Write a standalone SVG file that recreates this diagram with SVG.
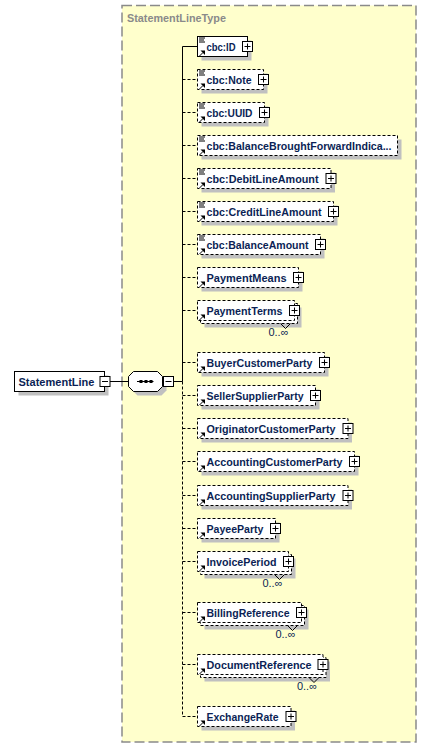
<svg xmlns="http://www.w3.org/2000/svg" width="427" height="748" viewBox="0 0 427 748">
<defs>
<style>
.bg{fill:#ffffff}
.ctr{fill:#ffffcc;stroke:#8a8a8a;stroke-width:1.5;stroke-dasharray:10,4}
.ttl{font-family:"Liberation Sans",Arial,sans-serif;font-weight:bold;font-size:11px;fill:#8a8a8a}
.sh{fill:#c0c0c0}
.box{fill:#ffffff;stroke:#000000;stroke-width:1}
.opt{stroke-dasharray:3,2}
.lbl{font-family:"Liberation Sans",Arial,sans-serif;font-weight:bold;font-size:11px;fill:#0b1f55}
.occ{font-family:"Liberation Sans",Arial,sans-serif;font-size:11px;fill:#0b1f55}
.ln{stroke:#000000;stroke-width:1;fill:none}
.dl{stroke:#000000;stroke-width:1;fill:none;stroke-dasharray:3,2}
.pm{fill:#ffffff;stroke:#000000;stroke-width:1}
.ar{fill:#000000}
</style>
<g id="plus"><rect class="pm" x="-5" y="-5" width="10" height="10"/><path class="ln" d="M-3,0H3M0,-3V3"/></g>
<g id="lines"><path class="ln" d="M199,-8.5H205M199,-6.5H204M199,-4.5H205"/></g>
<g id="arrow"><path class="ln" d="M199.5,9.5L203,6"/><path class="ar" d="M205,4L205,8.5L200.5,4Z"/></g>
</defs>
<rect class="bg" x="0" y="0" width="427" height="748"/>
<g id="container">
<rect class="ctr" x="122" y="5.5" width="294" height="736.5"/>
<text class="ttl" x="127" y="22" textLength="99" lengthAdjust="spacingAndGlyphs">StatementLineType</text>
</g>

<g id="connectors">
<path class="ln" d="M110,381.5H128.5M173.5,381.5H182.5M182.5,46.5V381.5M182.5,46.5H197.5"/>
<path class="dl" d="M182.5,381.5V716.5"/>
<path class="dl" d="M182.5,79.5H197.5M182.5,112.5H197.5M182.5,145.5H197.5M182.5,178.5H197.5M182.5,211.5H197.5M182.5,244.5H197.5M182.5,277.5H197.5M182.5,310.5H197.5M182.5,362.5H197.5M182.5,395.5H197.5M182.5,428.5H197.5M182.5,461.5H197.5M182.5,495.5H197.5M182.5,528.5H197.5M182.5,561.5H197.5M182.5,612.5H197.5M182.5,664.5H197.5M182.5,716.5H197.5"/>
</g>

<g id="StatementLine">
<rect class="sh" x="18.5" y="375.5" width="90" height="20"/>
<rect class="box" x="14.5" y="371.5" width="90" height="20"/>
<text class="lbl" x="18.5" y="385.5" textLength="76" lengthAdjust="spacingAndGlyphs">StatementLine</text>
<rect class="pm" x="100" y="376.5" width="10" height="10"/>
<path class="ln" d="M102,381.5H108"/>
</g>

<g id="sequence">
<polygon class="sh" points="137.5,375.5 161.5,375.5 166.5,380.5 166.5,390.5 161.5,395.5 137.5,395.5 132.5,390.5 132.5,380.5"/>
<polygon class="box" points="133.5,371.5 157.5,371.5 162.5,376.5 162.5,386.5 157.5,391.5 133.5,391.5 128.5,386.5 128.5,376.5"/>
<path class="ln" d="M137,381.5H153.5"/>
<rect class="ar" x="139.5" y="380" width="3" height="3"/>
<rect class="ar" x="144.5" y="380" width="3" height="3"/>
<rect class="ar" x="149.5" y="380" width="3" height="3"/>
<rect class="pm" x="163.5" y="376.5" width="10" height="10"/>
<path class="ln" d="M165.5,381.5H171.5"/>
</g>

<g id="cbc-ID" transform="translate(0,46.5)">
<rect class="sh" x="201.5" y="-6" width="50" height="20"/>
<rect class="box" x="197.5" y="-10" width="50" height="20"/>
<use href="#lines"/><use href="#arrow"/>
<text class="lbl" x="206.5" y="4" textLength="29" lengthAdjust="spacingAndGlyphs">cbc:ID</text>
<use href="#plus" x="247.5"/>
</g>

<g id="cbc-Note" transform="translate(0,79.5)">
<rect class="sh" x="201.5" y="-6" width="66" height="20"/>
<rect class="box opt" x="197.5" y="-10" width="66" height="20"/>
<use href="#lines"/><use href="#arrow"/>
<text class="lbl" x="206.5" y="4" textLength="45" lengthAdjust="spacingAndGlyphs">cbc:Note</text>
<use href="#plus" x="263.5"/>
</g>

<g id="cbc-UUID" transform="translate(0,112.5)">
<rect class="sh" x="201.5" y="-6" width="67" height="20"/>
<rect class="box opt" x="197.5" y="-10" width="67" height="20"/>
<use href="#lines"/><use href="#arrow"/>
<text class="lbl" x="206.5" y="4" textLength="46" lengthAdjust="spacingAndGlyphs">cbc:UUID</text>
<use href="#plus" x="264.5"/>
</g>

<g id="cbc-BalanceBroughtForwardIndicator" transform="translate(0,145.5)">
<rect class="sh" x="201.5" y="-6" width="200" height="20"/>
<rect class="box opt" x="197.5" y="-10" width="200" height="20"/>
<use href="#lines"/><use href="#arrow"/>
<text class="lbl" x="206.5" y="4" textLength="185" lengthAdjust="spacingAndGlyphs">cbc:BalanceBroughtForwardIndica...</text>
</g>

<g id="cbc-DebitLineAmount" transform="translate(0,178.5)">
<rect class="sh" x="201.5" y="-6" width="133.5" height="20"/>
<rect class="box opt" x="197.5" y="-10" width="133.5" height="20"/>
<use href="#lines"/><use href="#arrow"/>
<text class="lbl" x="206.5" y="4" textLength="112" lengthAdjust="spacingAndGlyphs">cbc:DebitLineAmount</text>
<use href="#plus" x="331"/>
</g>

<g id="cbc-CreditLineAmount" transform="translate(0,211.5)">
<rect class="sh" x="201.5" y="-6" width="136" height="20"/>
<rect class="box opt" x="197.5" y="-10" width="136" height="20"/>
<use href="#lines"/><use href="#arrow"/>
<text class="lbl" x="206.5" y="4" textLength="115" lengthAdjust="spacingAndGlyphs">cbc:CreditLineAmount</text>
<use href="#plus" x="333.5"/>
</g>

<g id="cbc-BalanceAmount" transform="translate(0,244.5)">
<rect class="sh" x="201.5" y="-6" width="123" height="20"/>
<rect class="box opt" x="197.5" y="-10" width="123" height="20"/>
<use href="#lines"/><use href="#arrow"/>
<text class="lbl" x="206.5" y="4" textLength="102" lengthAdjust="spacingAndGlyphs">cbc:BalanceAmount</text>
<use href="#plus" x="320.5"/>
</g>

<g id="PaymentMeans" transform="translate(0,277.5)">
<rect class="sh" x="201.5" y="-6" width="101" height="20"/>
<rect class="box opt" x="197.5" y="-10" width="101" height="20"/>
<use href="#arrow"/>
<text class="lbl" x="206.5" y="4" textLength="80" lengthAdjust="spacingAndGlyphs">PaymentMeans</text>
<use href="#plus" x="298.5"/>
</g>

<g id="PaymentTerms" transform="translate(0,310.5)">
<rect class="sh" x="204.5" y="-3" width="97" height="20"/>
<rect class="box opt" x="200.5" y="-7" width="97" height="20"/>
<rect class="box opt" x="197.5" y="-10" width="97" height="20"/>
<use href="#arrow"/>
<text class="lbl" x="206.5" y="4" textLength="76" lengthAdjust="spacingAndGlyphs">PaymentTerms</text>
<use href="#plus" x="294.5"/>
<path class="ln" d="M280.5,13L285.5,18L290.5,13"/>
<text class="occ" x="288.5" y="25.5" text-anchor="end">0..∞</text>
</g>

<g id="BuyerCustomerParty" transform="translate(0,362.5)">
<rect class="sh" x="201.5" y="-6" width="127" height="20"/>
<rect class="box opt" x="197.5" y="-10" width="127" height="20"/>
<use href="#arrow"/>
<text class="lbl" x="206.5" y="4" textLength="106" lengthAdjust="spacingAndGlyphs">BuyerCustomerParty</text>
<use href="#plus" x="324.5"/>
</g>

<g id="SellerSupplierParty" transform="translate(0,395.5)">
<rect class="sh" x="201.5" y="-6" width="118" height="20"/>
<rect class="box opt" x="197.5" y="-10" width="118" height="20"/>
<use href="#arrow"/>
<text class="lbl" x="206.5" y="4" textLength="97" lengthAdjust="spacingAndGlyphs">SellerSupplierParty</text>
<use href="#plus" x="315.5"/>
</g>

<g id="OriginatorCustomerParty" transform="translate(0,428.5)">
<rect class="sh" x="201.5" y="-6" width="150.5" height="20"/>
<rect class="box opt" x="197.5" y="-10" width="150.5" height="20"/>
<use href="#arrow"/>
<text class="lbl" x="206.5" y="4" textLength="129" lengthAdjust="spacingAndGlyphs">OriginatorCustomerParty</text>
<use href="#plus" x="348"/>
</g>

<g id="AccountingCustomerParty" transform="translate(0,461.5)">
<rect class="sh" x="201.5" y="-6" width="157" height="20"/>
<rect class="box opt" x="197.5" y="-10" width="157" height="20"/>
<use href="#arrow"/>
<text class="lbl" x="206.5" y="4" textLength="136" lengthAdjust="spacingAndGlyphs">AccountingCustomerParty</text>
<use href="#plus" x="354.5"/>
</g>

<g id="AccountingSupplierParty" transform="translate(0,495.5)">
<rect class="sh" x="201.5" y="-6" width="150.5" height="20"/>
<rect class="box opt" x="197.5" y="-10" width="150.5" height="20"/>
<use href="#arrow"/>
<text class="lbl" x="206.5" y="4" textLength="129" lengthAdjust="spacingAndGlyphs">AccountingSupplierParty</text>
<use href="#plus" x="348"/>
</g>

<g id="PayeeParty" transform="translate(0,528.5)">
<rect class="sh" x="201.5" y="-6" width="78" height="20"/>
<rect class="box opt" x="197.5" y="-10" width="78" height="20"/>
<use href="#arrow"/>
<text class="lbl" x="206.5" y="4" textLength="57" lengthAdjust="spacingAndGlyphs">PayeeParty</text>
<use href="#plus" x="275.5"/>
</g>

<g id="InvoicePeriod" transform="translate(0,561.5)">
<rect class="sh" x="204.5" y="-3" width="91" height="20"/>
<rect class="box opt" x="200.5" y="-7" width="91" height="20"/>
<rect class="box opt" x="197.5" y="-10" width="91" height="20"/>
<use href="#arrow"/>
<text class="lbl" x="206.5" y="4" textLength="70" lengthAdjust="spacingAndGlyphs">InvoicePeriod</text>
<use href="#plus" x="288.5"/>
<path class="ln" d="M274.5,13L279.5,18L284.5,13"/>
<text class="occ" x="282.5" y="25.5" text-anchor="end">0..∞</text>
</g>

<g id="BillingReference" transform="translate(0,612.5)">
<rect class="sh" x="204.5" y="-3" width="104" height="20"/>
<rect class="box opt" x="200.5" y="-7" width="104" height="20"/>
<rect class="box opt" x="197.5" y="-10" width="104" height="20"/>
<use href="#arrow"/>
<text class="lbl" x="206.5" y="4" textLength="83" lengthAdjust="spacingAndGlyphs">BillingReference</text>
<use href="#plus" x="301.5"/>
<path class="ln" d="M287.5,13L292.5,18L297.5,13"/>
<text class="occ" x="295.5" y="25.5" text-anchor="end">0..∞</text>
</g>

<g id="DocumentReference" transform="translate(0,664.5)">
<rect class="sh" x="204.5" y="-3" width="125.5" height="20"/>
<rect class="box opt" x="200.5" y="-7" width="125.5" height="20"/>
<rect class="box opt" x="197.5" y="-10" width="125.5" height="20"/>
<use href="#arrow"/>
<text class="lbl" x="206.5" y="4" textLength="105" lengthAdjust="spacingAndGlyphs">DocumentReference</text>
<use href="#plus" x="323"/>
<path class="ln" d="M309,13L314,18L319,13"/>
<text class="occ" x="317" y="25.5" text-anchor="end">0..∞</text>
</g>

<g id="ExchangeRate" transform="translate(0,716.5)">
<rect class="sh" x="201.5" y="-6" width="93.5" height="20"/>
<rect class="box opt" x="197.5" y="-10" width="93.5" height="20"/>
<use href="#arrow"/>
<text class="lbl" x="206.5" y="4" textLength="72" lengthAdjust="spacingAndGlyphs">ExchangeRate</text>
<use href="#plus" x="291"/>
</g>
</svg>
